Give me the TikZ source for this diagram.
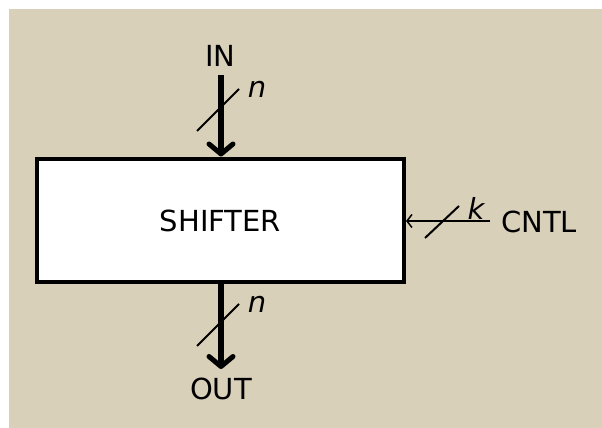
\documentclass[tikz,border=0pt]{standalone}
\usepackage{fontspec}
\setmainfont{DejaVu Sans}
\usetikzlibrary{arrows.meta}
\definecolor{bgbeige}{RGB}{217,208,185}
\begin{document}
\begin{tikzpicture}[x=1pt,y=1pt,
  lbl/.style={font=\fontsize{29}{34}\selectfont, inner sep=0pt},
  ilbl/.style={font=\fontsize{29}{34}\selectfont\itshape, inner sep=0pt},
  bigarrow/.style={line width=6pt, -{Straight Barb[length=10pt,width=24pt,line width=5pt,round]}},
  smallarrow/.style={line width=2pt, -{Straight Barb[length=5pt,width=13pt,line width=1.5pt]}},
  slash/.style={line width=2pt},
  boxstyle/.style={draw, fill=white, line width=4pt, minimum width=367pt, minimum height=122.5pt, inner sep=0pt, font=\fontsize{29}{34}\selectfont}]
\useasboundingbox (0,0) rectangle (602,428);
\fill[bgbeige] (9,0) rectangle (602,419);

\node[boxstyle] (shifter) at (220.5,207.25) {SHIFTER};

% IN
\node[lbl] (inlbl) at (220.5,372) {IN};
\coordinate (intop) at (221,353);
\coordinate (s1a) at (197,297);
\coordinate (s1b) at (239,339);
\draw[bigarrow] (intop) -- ([yshift=1pt]intop |- shifter.north);
\draw[slash] (s1a) -- (s1b);
\node[ilbl] (n1) at (257,339) {n};

% OUT
\node[lbl] (outlbl) at (221,39) {OUT};
\coordinate (outbot) at (221,59);
\coordinate (s2a) at (197,82);
\coordinate (s2b) at (239,124);
\draw[bigarrow] (outbot |- shifter.south) -- (outbot);
\draw[slash] (s2a) -- (s2b);
\node[ilbl] (n2) at (257,124) {n};

% CNTL
\node[lbl] (cntl) at (539,206) {CNTL};
\coordinate (cntlend) at (490,207);
\draw[smallarrow] (cntlend) -- (cntlend -| shifter.east);
\coordinate (s3a) at (425,190);
\coordinate (s3b) at (459,222);
\draw[slash] (s3a) -- (s3b);
\node[ilbl] (k) at (476,220) {k};
\end{tikzpicture}
\end{document}
